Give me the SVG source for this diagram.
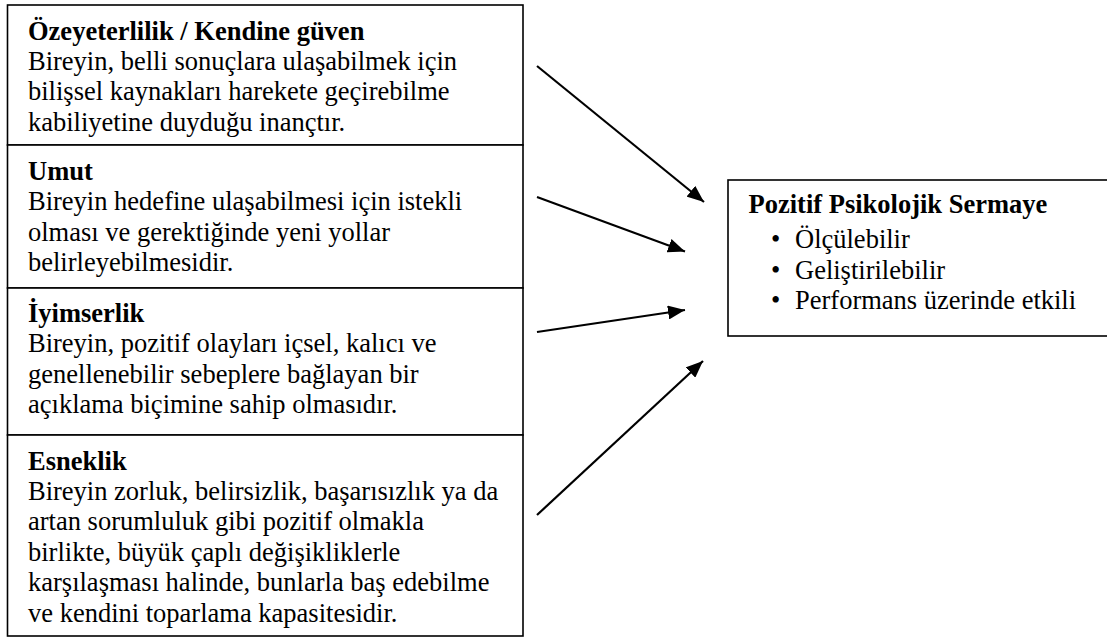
<svg xmlns="http://www.w3.org/2000/svg" width="1107" height="637" viewBox="0 0 1107 637">
<style>
.box{fill:#fff;stroke:#000;stroke-width:1.6}
text{font-family:"Liberation Serif","Times New Roman",Times,serif;font-size:26.5px;fill:#000}
.t{font-weight:bold}
.arr{stroke:#000;stroke-width:2.2;fill:none;marker-end:url(#ah)}
</style>
<defs>
<marker id="ah" markerUnits="userSpaceOnUse" markerWidth="18" markerHeight="14" refX="17" refY="7" orient="auto">
<path d="M0,0 L17,7 L0,14 z" fill="#000"/>
</marker>
</defs>
<rect width="1107" height="637" fill="#fff"/>
<g id="ozyeterlilik">
<rect class="box" x="7.5" y="5" width="515.5" height="140"/>
<text x="28" y="39.5" class="t">Özeyeterlilik / Kendine güven</text>
<text x="28" y="70">Bireyin, belli sonuçlara ulaşabilmek için</text>
<text x="28" y="100.4">bilişsel kaynakları harekete geçirebilme</text>
<text x="28" y="130.8">kabiliyetine duyduğu inançtır.</text>
</g>
<g id="umut">
<rect class="box" x="7.5" y="145" width="515.5" height="143"/>
<text x="28" y="180" class="t">Umut</text>
<text x="28" y="210.4">Bireyin hedefine ulaşabilmesi için istekli</text>
<text x="28" y="240.8">olması ve gerektiğinde yeni yollar</text>
<text x="28" y="271.2">belirleyebilmesidir.</text>
</g>
<g id="iyimserlik">
<rect class="box" x="7.5" y="288" width="515.5" height="147"/>
<text x="28" y="322" class="t">İyimserlik</text>
<text x="28" y="352.4">Bireyin, pozitif olayları içsel, kalıcı ve</text>
<text x="28" y="382.8">genellenebilir sebeplere bağlayan bir</text>
<text x="28" y="413.2">açıklama biçimine sahip olmasıdır.</text>
</g>
<g id="esneklik">
<rect class="box" x="7.5" y="435" width="515.5" height="201"/>
<text x="28" y="469.5" class="t">Esneklik</text>
<text x="28" y="500">Bireyin zorluk, belirsizlik, başarısızlık ya da</text>
<text x="28" y="530.4">artan sorumluluk gibi pozitif olmakla</text>
<text x="28" y="560.8">birlikte, büyük çaplı değişikliklerle</text>
<text x="28" y="591.2">karşılaşması halinde, bunlarla baş edebilme</text>
<text x="28" y="621.6">ve kendini toparlama kapasitesidir.</text>
</g>
<g id="sermaye">
<rect class="box" x="728" y="180" width="400" height="156"/>
<text x="748.5" y="213" class="t">Pozitif Psikolojik Sermaye</text>
<text x="771" y="248">•</text><text x="795" y="248">Ölçülebilir</text>
<text x="771" y="278.5">•</text><text x="795" y="278.5">Geliştirilebilir</text>
<text x="771" y="309">•</text><text x="795" y="309">Performans üzerinde etkili</text>
</g>
<g id="connectors">
<line class="arr" x1="537" y1="66" x2="704" y2="202"/>
<line class="arr" x1="537" y1="197" x2="685" y2="251.5"/>
<line class="arr" x1="537" y1="332" x2="685" y2="310"/>
<line class="arr" x1="537" y1="515" x2="703" y2="361"/>
</g>
</svg>
